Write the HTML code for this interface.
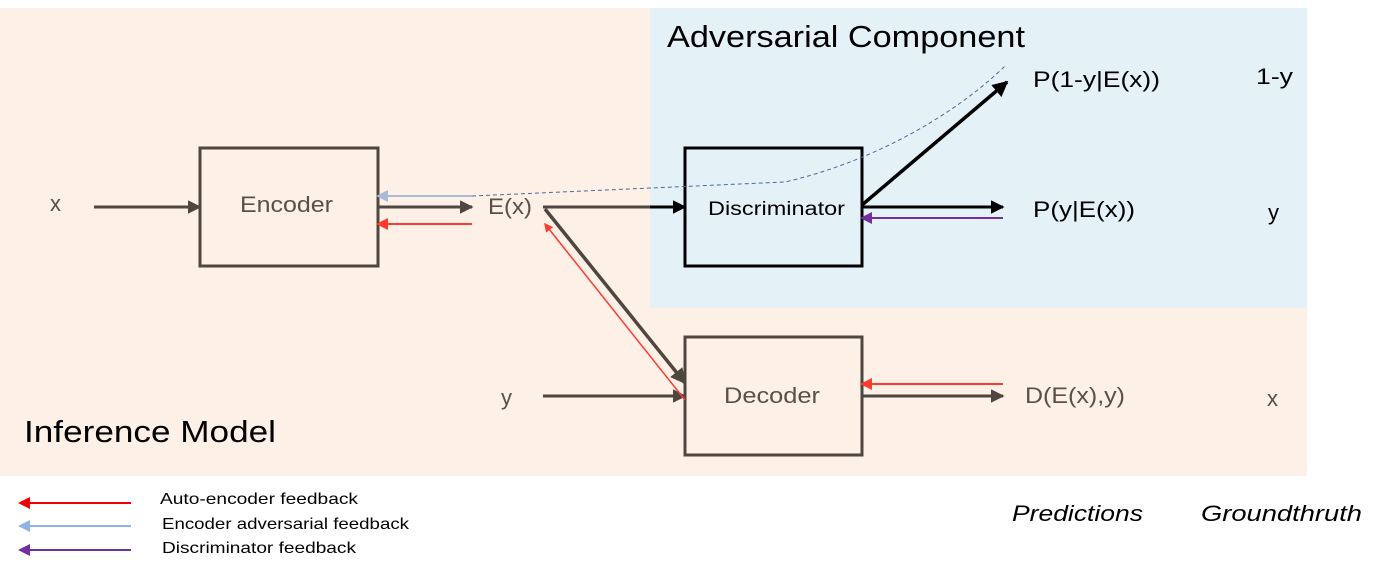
<!DOCTYPE html>
<html><head><meta charset="utf-8"><style>
body{margin:0;background:#fff;}
svg{display:block;font-family:"Liberation Sans",sans-serif;}
</style></head><body>
<svg width="1383" height="572" viewBox="0 0 1383 572">
<defs>
<marker id="ab" markerWidth="4.5" markerHeight="4.5" refX="4" refY="2.25" orient="auto" markerUnits="strokeWidth"><path d="M0,0L4.5,2.25L0,4.5z" fill="#4f4640"/></marker>
<marker id="ak" markerWidth="4.5" markerHeight="4.5" refX="4" refY="2.25" orient="auto" markerUnits="strokeWidth"><path d="M0,0L4.5,2.25L0,4.5z" fill="#000"/></marker>
<marker id="ar" markerWidth="6" markerHeight="6" refX="5" refY="3" orient="auto" markerUnits="strokeWidth"><path d="M0,0L6,3L0,6z" fill="#ff3b30"/></marker>
<marker id="arl" markerWidth="6" markerHeight="6" refX="5" refY="3" orient="auto" markerUnits="strokeWidth"><path d="M0,0L6,3L0,6z" fill="#ee0000"/></marker>
<marker id="al" markerWidth="6" markerHeight="6" refX="5" refY="3" orient="auto" markerUnits="strokeWidth"><path d="M0,0L6,3L0,6z" fill="#a9bcd6"/></marker>
<marker id="all" markerWidth="6" markerHeight="6" refX="5" refY="3" orient="auto" markerUnits="strokeWidth"><path d="M0,0L6,3L0,6z" fill="#8eb4e3"/></marker>
<marker id="ap" markerWidth="6" markerHeight="6" refX="5" refY="3" orient="auto" markerUnits="strokeWidth"><path d="M0,0L6,3L0,6z" fill="#7030a0"/></marker>
</defs>
<rect x="0" y="8" width="1307" height="468" fill="#fdf0e6"/>
<rect x="650" y="8" width="657" height="300" fill="#e4f2f7"/>
<text x="667" y="47" font-size="31" fill="#000" textLength="358" lengthAdjust="spacingAndGlyphs">Adversarial Component</text>
<text x="24" y="442" font-size="31" fill="#000" textLength="252" lengthAdjust="spacingAndGlyphs">Inference Model</text>

<rect x="200" y="148" width="178" height="118" fill="none" stroke="#4f4640" stroke-width="3"/>
<text x="240" y="212" font-size="22" fill="#5a504a" textLength="93" lengthAdjust="spacingAndGlyphs">Encoder</text>
<rect x="685" y="148" width="177" height="118" fill="none" stroke="#000" stroke-width="3"/>
<text x="708" y="215" font-size="19" fill="#000" textLength="137" lengthAdjust="spacingAndGlyphs">Discriminator</text>
<rect x="685" y="337" width="177" height="118" fill="none" stroke="#4f4640" stroke-width="3"/>
<text x="724" y="403" font-size="22" fill="#5a504a" textLength="96" lengthAdjust="spacingAndGlyphs">Decoder</text>

<text x="50" y="211" font-size="22" fill="#5a504a">x</text>
<text x="488" y="214" font-size="22" fill="#5a504a" textLength="44" lengthAdjust="spacingAndGlyphs">E(x)</text>
<text x="501" y="405" font-size="22" fill="#5a504a">y</text>
<text x="1033" y="87" font-size="22" fill="#000" textLength="127" lengthAdjust="spacingAndGlyphs">P(1-y|E(x))</text>
<text x="1033" y="217" font-size="22" fill="#000" textLength="102" lengthAdjust="spacingAndGlyphs">P(y|E(x))</text>
<text x="1025" y="403" font-size="22" fill="#5a504a" textLength="100" lengthAdjust="spacingAndGlyphs">D(E(x),y)</text>
<text x="1256" y="84" font-size="22" fill="#000" textLength="37" lengthAdjust="spacingAndGlyphs">1-y</text>
<text x="1268" y="220" font-size="22" fill="#000">y</text>
<text x="1267" y="406" font-size="22" fill="#5a504a">x</text>
<text x="1012" y="521" font-size="22" font-style="italic" fill="#000" textLength="131" lengthAdjust="spacingAndGlyphs">Predictions</text>
<text x="1201" y="521" font-size="22" font-style="italic" fill="#000" textLength="161" lengthAdjust="spacingAndGlyphs">Groundthruth</text>

<line x1="94" y1="207" x2="200" y2="207" stroke="#4f4640" stroke-width="3" marker-end="url(#ab)"/>
<line x1="378" y1="207" x2="472" y2="207" stroke="#4f4640" stroke-width="3" marker-end="url(#ab)"/>
<line x1="543" y1="207" x2="650" y2="207" stroke="#4f4640" stroke-width="3"/>
<line x1="650" y1="207" x2="685" y2="207" stroke="#000" stroke-width="3" marker-end="url(#ak)"/>
<line x1="545" y1="209" x2="685" y2="383" stroke="#4f4640" stroke-width="3.5" marker-end="url(#ab)"/>
<line x1="543" y1="396" x2="685" y2="396" stroke="#4f4640" stroke-width="3" marker-end="url(#ab)"/>
<line x1="862" y1="207" x2="1003" y2="207" stroke="#000" stroke-width="3" marker-end="url(#ak)"/>
<line x1="862" y1="205" x2="1007" y2="82" stroke="#000" stroke-width="3.5" marker-end="url(#ak)"/>
<line x1="862" y1="396" x2="1003" y2="396" stroke="#4f4640" stroke-width="3" marker-end="url(#ab)"/>

<line x1="472" y1="196" x2="378" y2="196" stroke="#a9bcd6" stroke-width="2" marker-end="url(#al)"/>
<path d="M472,196 L785,182 C880,160 960,110 1005,66" fill="none" stroke="#4a6a9a" stroke-width="1" stroke-dasharray="4,3"/>
<line x1="472" y1="224" x2="378" y2="224" stroke="#ff3b30" stroke-width="2" marker-end="url(#ar)"/>
<line x1="685" y1="400" x2="545" y2="224" stroke="#ff3b30" stroke-width="1.5" marker-end="url(#ar)"/>
<line x1="1003" y1="384" x2="862" y2="384" stroke="#ff3b30" stroke-width="2" marker-end="url(#ar)"/>
<line x1="1003" y1="218" x2="862" y2="218" stroke="#7030a0" stroke-width="2" marker-end="url(#ap)"/>

<line x1="131" y1="503" x2="20" y2="503" stroke="#ee0000" stroke-width="2" marker-end="url(#arl)"/>
<line x1="131" y1="526" x2="20" y2="526" stroke="#8eb4e3" stroke-width="2" marker-end="url(#all)"/>
<line x1="131" y1="550" x2="20" y2="550" stroke="#7030a0" stroke-width="2" marker-end="url(#ap)"/>
<text x="160" y="504" font-size="16" fill="#000" textLength="198" lengthAdjust="spacingAndGlyphs">Auto-encoder feedback</text>
<text x="162" y="529" font-size="16" fill="#000" textLength="247" lengthAdjust="spacingAndGlyphs">Encoder adversarial feedback</text>
<text x="162" y="553" font-size="16" fill="#000" textLength="194" lengthAdjust="spacingAndGlyphs">Discriminator feedback</text>
</svg>
</body></html>
